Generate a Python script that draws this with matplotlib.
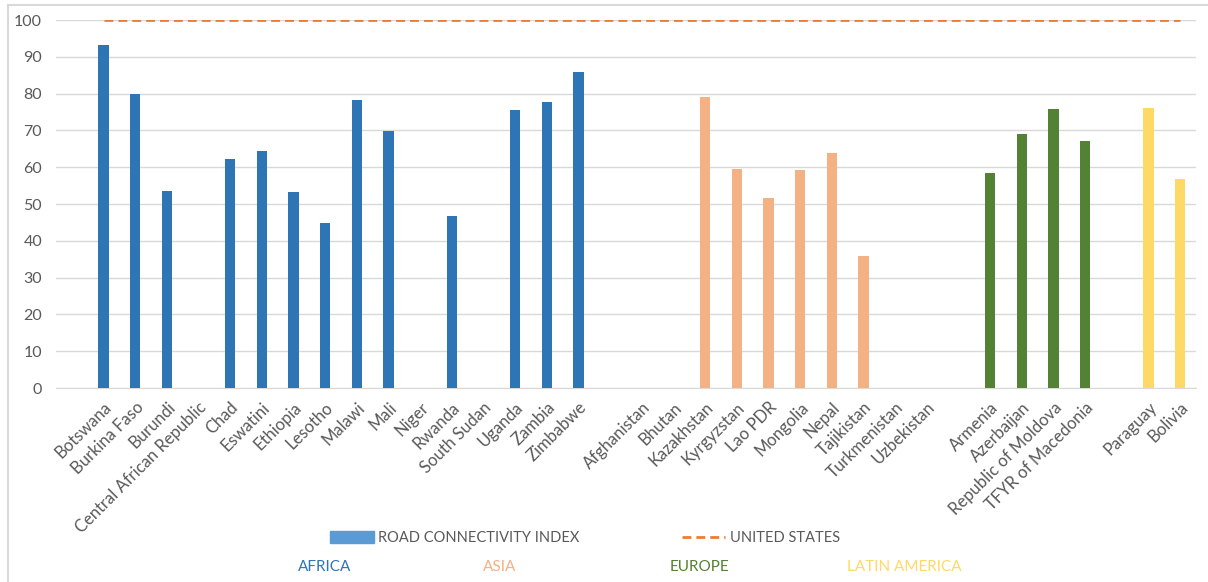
import matplotlib.pyplot as plt
from matplotlib.patches import Patch
from matplotlib.lines import Line2D

plt.rcParams['font.family'] = ['Lato', 'DejaVu Sans']

# Road connectivity index by country (None = no data)
africa = ['Botswana', 'Burkina Faso', 'Burundi', 'Central African Republic', 'Chad',
          'Eswatini', 'Ethiopia', 'Lesotho', 'Malawi', 'Mali', 'Niger', 'Rwanda',
          'South Sudan', 'Uganda', 'Zambia', 'Zimbabwe']
africa_vals = [93.2, 80.0, 53.5, None, 62.2, 64.4, 53.3, 44.8, 78.3, 69.8, None, 46.7,
               None, 75.5, 77.7, 85.9]

asia = ['Afghanistan', 'Bhutan', 'Kazakhstan', 'Kyrgyzstan', 'Lao PDR', 'Mongolia',
        'Nepal', 'Tajikistan', 'Turkmenistan', 'Uzbekistan']
asia_vals = [None, None, 79.1, 59.5, 51.6, 59.2, 63.9, 35.9, None, None]

europe = ['Armenia', 'Azerbaijan', 'Republic of Moldova', 'TFYR of Macedonia']
europe_vals = [58.4, 69.0, 75.8, 67.1]

latam = ['Paraguay', 'Bolivia']
latam_vals = [76.1, 56.8]

us_value = 100

regions = ['AFRICA', 'ASIA', 'EUROPE', 'LATIN AMERICA']
region_colors = ['#2E75B6', '#F4B183', '#548235', '#FFD966']
groups = [(africa, africa_vals), (asia, asia_vals), (europe, europe_vals), (latam, latam_vals)]

text_col = '#595959'
grid_col = '#D9D9D9'

fig = plt.figure(figsize=(12.08, 5.82), dpi=100)
ax = fig.add_axes([56 / 1208, 1 - 388 / 582, 1140 / 1208, 368 / 582])

# one blank slot before each region group
labels = []
pos = 0
for (names, vals), col in zip(groups, region_colors):
    labels.append('')
    pos += 1
    xs = list(range(pos, pos + len(names)))
    for x, v in zip(xs, vals):
        if v is not None:
            ax.bar(x, v, width=0.32, color=col, zorder=3)
    labels.extend(names)
    pos += len(names)

n = len(labels)
us_x = list(range(1, n))
ax.plot(us_x, [us_value] * len(us_x), color='#ED7D31', lw=2, ls=(0, (3.2, 1.8)), zorder=4)

ax.set_xlim(-0.5, n - 0.5)
ax.set_ylim(0, 100)
ax.set_yticks(range(0, 101, 10))
ax.set_xticks(range(n))
ax.set_xticklabels(labels, rotation=45, ha='right', rotation_mode='anchor')
ax.tick_params(axis='x', length=0, pad=8, labelsize=12, labelcolor=text_col)
ax.tick_params(axis='y', length=0, pad=10, labelsize=11.5, labelcolor=text_col)
ax.grid(axis='y', color=grid_col, lw=1, zorder=0)
for s in ['top', 'right', 'left']:
    ax.spines[s].set_visible(False)
ax.spines['bottom'].set_color(grid_col)
ax.spines['bottom'].set_zorder(2)

handles = [Patch(color='#5B9BD5', label='ROAD CONNECTIVITY INDEX'),
           Line2D([], [], color='#ED7D31', lw=2, ls=(0, (3.2, 1.8)), label='UNITED STATES')]
fig.legend(handles=handles, loc='center', bbox_to_anchor=(585 / 1208, 1 - 538 / 582),
           ncol=2, frameon=False, fontsize=10.5, labelcolor=text_col,
           columnspacing=7, handlelength=3, handleheight=0.8, handletextpad=0.3)

region_x = [325, 500, 699, 904]
for name, col, x in zip(regions, region_colors, region_x):
    fig.text(x / 1208, 1 - 567 / 582, name, color=col, fontsize=11, ha='center', va='center')

# frame edges
fig.add_artist(Line2D([8 / 1208, 8 / 1208], [0, 1 - 5 / 582], color=grid_col, lw=1.5))
fig.add_artist(Line2D([8 / 1208, 1], [1 - 5 / 582, 1 - 5 / 582], color=grid_col, lw=1.5))

fig.savefig('out.png', dpi=100)
